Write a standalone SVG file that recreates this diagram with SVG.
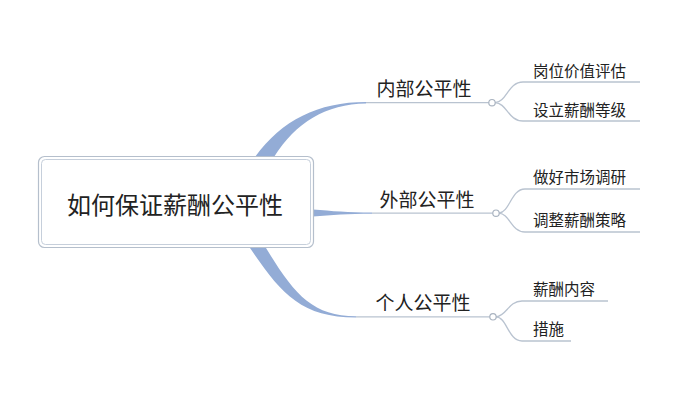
<svg xmlns="http://www.w3.org/2000/svg" width="690" height="400" viewBox="0 0 690 400">
<style>
text{font-family:"Noto Sans CJK SC","Noto Sans",sans-serif;fill:#222;}
.main{font-size:24px;}
.b{font-size:19px;}
.c{font-size:15.5px;}
.taper{fill:#93acd6;stroke:none;}
.ln{fill:none;stroke:#b9c3d0;stroke-width:1.3;}
.dot{fill:#fff;stroke:#a9b3c0;stroke-width:1.2;}
</style>
<rect width="690" height="400" fill="#fff"/>
<g id="connectors">
<path class="taper" d="M255,157 C282,120 318,102 366,102 L366,103.4 C326,104 296,122 274,157 Z"/>
<path class="taper" d="M313,209.5 C332,211 348,212.6 372,212.6 L372,213.8 C348,214 332,215 313,216.5 Z"/>
<path class="taper" d="M250,248 C280,292 300,317.5 356,317.5 L356,316.2 C312,316 294,294 266,248 Z"/>
<path class="ln" d="M366,102.7 L489,102.7"/>
<path class="ln" d="M372,213.2 L493,213.2"/>
<path class="ln" d="M356,316.8 L490,316.8"/>
<path class="ln" d="M495,102.7 C507,102 508,82 523,82 L640,82"/>
<path class="ln" d="M495,102.7 C507,103 508,121 523,121 L640,121"/>
<path class="ln" d="M499,213.2 C510,212 511,189 525,189 L640,189"/>
<path class="ln" d="M499,213.2 C510,214 511,232 525,232 L640,232"/>
<path class="ln" d="M496,316.8 C507,316 508,301 522,301 L608,301"/>
<path class="ln" d="M496,316.8 C507,317 508,341 522,341 L571,341"/>
<circle class="dot" cx="492" cy="102.7" r="3.2"/>
<circle class="dot" cx="496" cy="213.2" r="3.2"/>
<circle class="dot" cx="493" cy="316.8" r="3.2"/>
</g>
<g id="root">
<rect x="38.5" y="156.5" width="275" height="91" rx="6" fill="#fff" stroke="#b5bfcc" stroke-width="1.2"/>
<rect x="41.5" y="159.5" width="269" height="85" rx="4" fill="#fff" stroke="#c6cfdb" stroke-width="1"/>
<text class="main" x="175" y="214" text-anchor="middle">如何保证薪酬公平性</text>
</g>
<g id="n1"><text class="b" x="424" y="96" text-anchor="middle">内部公平性</text></g>
<g id="n2"><text class="b" x="427" y="207" text-anchor="middle">外部公平性</text></g>
<g id="n3"><text class="b" x="423" y="310" text-anchor="middle">个人公平性</text></g>
<g id="n11"><text class="c" x="533" y="77">岗位价值评估</text></g>
<g id="n12"><text class="c" x="533" y="116">设立薪酬等级</text></g>
<g id="n21"><text class="c" x="533" y="183">做好市场调研</text></g>
<g id="n22"><text class="c" x="533" y="226">调整薪酬策略</text></g>
<g id="n31"><text class="c" x="533" y="295">薪酬内容</text></g>
<g id="n32"><text class="c" x="533" y="335">措施</text></g>
</svg>
